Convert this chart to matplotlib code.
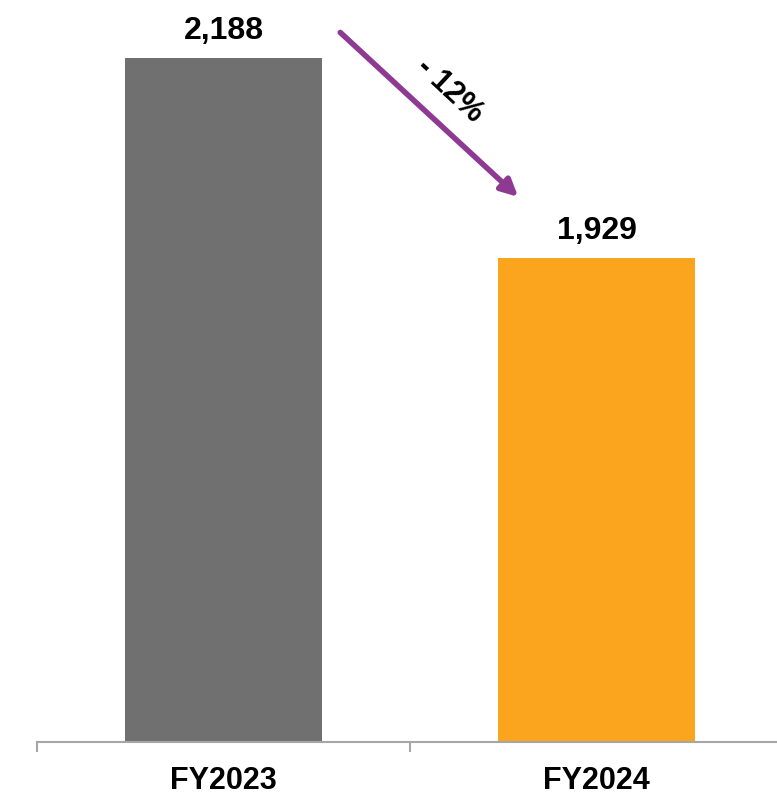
import matplotlib
matplotlib.use("Agg")
import matplotlib.pyplot as plt

# data
years = ["FY2023", "FY2024"]
revenue = [2188, 1929]
bar_colors = ["#717070", "#FBA51E"]
change_label = "- 12%"

plt.rcParams['font.family'] = ['Liberation Sans', 'DejaVu Sans']

fig = plt.figure(figsize=(7.77, 7.97), dpi=100)
# axis runs slightly past the right edge, like the original slide
ax = fig.add_axes([37 / 777, 55 / 797, 746 / 777, 742 / 797])

x = range(len(years))
ax.bar(x, revenue, width=0.528, color=bar_colors)
ax.set_ylim(1302, 2263)
ax.set_xlim(-0.5, 1.5)

for xi, v in zip(x, revenue):
    ax.text(xi, v + 16, f"{v:,}", ha='center', va='bottom',
            fontsize=23, fontweight='bold')

# spines / ticks
for s in ['top', 'right', 'left']:
    ax.spines[s].set_visible(False)
ax.spines['bottom'].set_color('#A6A6A6')
ax.spines['bottom'].set_linewidth(1.5)
ax.set_yticks([])
ax.set_xticks(list(x))
ax.set_xticklabels(years, fontsize=22, fontweight='bold')
ax.tick_params(axis='x', which='major', length=0, pad=17)
ax.set_xticks([-0.5, 0.5, 1.5], minor=True)
ax.tick_params(axis='x', which='minor', length=7.5, width=1.5, color='#A6A6A6')

# change arrow
ax.annotate("", xy=(0.79, 2008), xytext=(0.313, 2221),
            arrowprops=dict(arrowstyle='-|>,head_length=1.0,head_width=0.5',
                            color='#8E3A93', lw=4, shrinkA=0, shrinkB=0))
ax.text(0.605, 2146, change_label, rotation=-43, ha='center', va='center',
        fontsize=22, fontweight='bold', rotation_mode='anchor')

fig.savefig("out.png", dpi=100)
